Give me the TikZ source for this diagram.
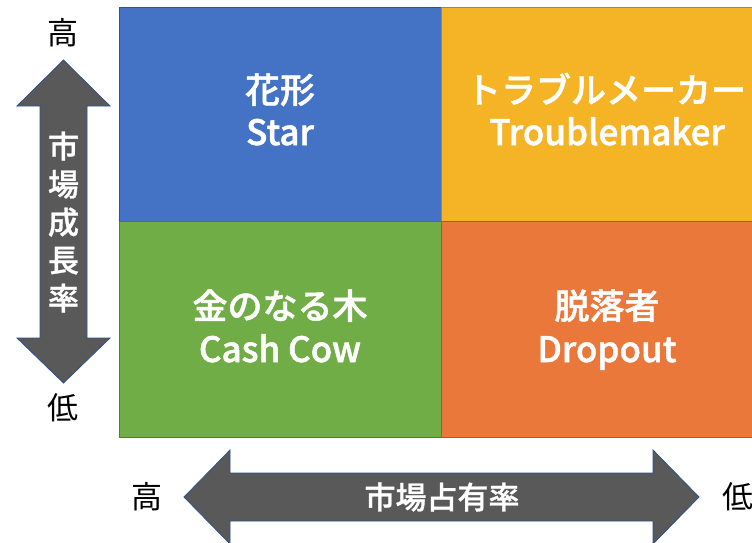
\documentclass[tikz,border=0pt]{standalone}
\usepackage{fontspec}
\newfontfamily\jp{Noto Sans CJK JP}
\newfontfamily\jpm{Noto Sans CJK JP}[UprightFont=* Medium]
\newcommand\thicktext[2]{\special{pdf:literal direct 2 Tr #1 w}#2\special{pdf:literal direct 0 Tr}}
\definecolor{qblue}{HTML}{4472C4}
\definecolor{qblueD}{HTML}{2F528F}
\definecolor{qyellow}{HTML}{F4B426}
\definecolor{qyellowD}{HTML}{B8860B}
\definecolor{qgreen}{HTML}{70AD47}
\definecolor{qgreenD}{HTML}{507E32}
\definecolor{qorange}{HTML}{E9783A}
\definecolor{qorangeD}{HTML}{AE5A21}
\definecolor{arrowfill}{HTML}{595959}
\definecolor{arrowline}{HTML}{2F528F}
\tikzset{
  quad/.style={line width=1pt},
  bigarrow/.style={fill=arrowfill, draw=arrowline, line width=0.8pt, line join=miter},
  qtitle/.style={text=white, font=\jpm\fontsize{35}{40}\selectfont, anchor=base, inner sep=0pt},
  qsub/.style={text=white, font=\jpm\fontsize{35}{40}\selectfont, anchor=base, inner sep=0pt},
  axistext/.style={text=white, font=\jpm\fontsize{31}{38}\selectfont, inner sep=0pt, align=center},
  endlabel/.style={text=black, font=\jp\fontsize{31}{36}\selectfont, inner sep=0pt}
}
\begin{document}
\begin{tikzpicture}[x=1pt,y=-1pt]
\useasboundingbox (0,0) rectangle (752,542);
\fill[white] (0,0) rectangle (752,542);
% quadrants
\filldraw[quad, fill=qblue, draw=qblueD] (119,7) rectangle (441,221);
\filldraw[quad, fill=qyellow, draw=qyellowD] (441,7) rectangle (760,221);
\filldraw[quad, fill=qgreen, draw=qgreenD] (119,221) rectangle (441,437);
\filldraw[quad, fill=qorange, draw=qorangeD] (441,221) rectangle (760,437);
% quadrant texts
\node[qtitle] (starJ) at (280,103) {\thicktext{0.5}{花形}};
\node[qsub] (starE) at (280,145) {\thicktext{0.5}{Star}};
\node[qtitle] (troJ) at (606,103) {\thicktext{0.5}{トラブルメーカー}};
\node[qsub] (troE) at (607,145) {\thicktext{0.5}{Troublemaker}};
\node[qtitle] (cashJ) at (280,319) {\thicktext{0.5}{金のなる木}};
\node[qsub] (cashE) at (280,362) {\thicktext{0.5}{Cash Cow}};
\node[qtitle] (dropJ) at (607,319) {\thicktext{0.5}{脱落者}};
\node[qsub] (dropE) at (607,362) {\thicktext{0.5}{Dropout}};
% vertical arrow
\draw[bigarrow] (63.5,60) -- (110,106) -- (87,106) -- (87,338) -- (110,338) -- (63.5,383)
  -- (17,338) -- (40,338) -- (40,106) -- (17,106) -- cycle;
\node[axistext] (growth) at (63.5,222) {\thicktext{0.3}{市\\場\\成\\長\\率}};
\node[endlabel] (vhigh) at (63,33) {高};
\node[endlabel] (vlow) at (63,408) {低};
% horizontal arrow
\draw[bigarrow] (184,497) -- (230,450) -- (230,473) -- (653,473) -- (653,450) -- (699,497)
  -- (653,544) -- (653,521) -- (230,521) -- (230,544) -- cycle;
\node[axistext] (share) at (442,497) {\thicktext{0.3}{市場占有率}};
\node[endlabel] (hhigh) at (147,497) {高};
\node[endlabel] (hlow) at (738,497) {低};
\end{tikzpicture}
\end{document}
